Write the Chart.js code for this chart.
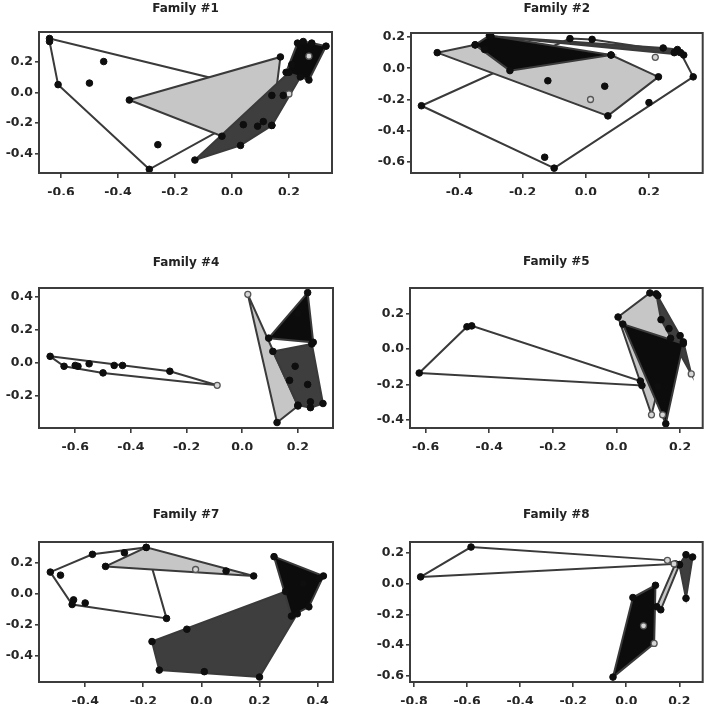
<!DOCTYPE html>
<html>
<head>
<meta charset="utf-8">
<script src="https://cdn.jsdelivr.net/npm/chart.js@4.4.0/dist/chart.umd.min.js"></script>
<style>
	html, body { margin: 0; padding: 0; background: #fff; }
	#wrap { position: relative; width: 708px; height: 707px; }
	.cell { position: absolute; }
</style>
</head>
<body>
<div id="wrap"></div>
<script>
// Point groups per family: white hull, light grey hull, dark grey hull, black hull.
// "...Open" arrays hold the hollow markers of a group (they still count for its hull).

// Family #1
const fam1White = [[-0.64, 0.35], [-0.64, 0.33], [-0.61, 0.05], [-0.45, 0.2], [-0.5, 0.06], [-0.26, -0.34], [-0.29, -0.5], [0.18, -0.02]];
const fam1Light = [[-0.36, -0.05], [0.17, 0.23], [0.14, -0.215], [-0.035, -0.285]];
const fam1Dark = [[-0.13, -0.44], [0.03, -0.345], [0.14, -0.215], [0.04, -0.21], [0.09, -0.22], [0.11, -0.19], [0.14, -0.02], [0.2, 0.13], [0.24, 0.1]];
const fam1DarkOpen = [[0.2, -0.01]];
const fam1Black = [[0.23, 0.32], [0.25, 0.33], [0.28, 0.32], [0.33, 0.3], [0.27, 0.08], [0.19, 0.13], [0.21, 0.18]];
const fam1BlackOpen = [[0.27, 0.235]];

// Family #2
const fam2White = [[-0.52, -0.24], [-0.13, -0.57], [-0.1, -0.64], [0.2, -0.22], [0.34, -0.055], [0.3, 0.1], [0.02, 0.185], [-0.05, 0.19]];
const fam2WhiteOpen = [[0.22, 0.07]];
const fam2Light = [[-0.47, 0.1], [-0.35, 0.15], [0.08, 0.085], [0.23, -0.055], [0.07, -0.305], [-0.12, -0.08], [0.06, -0.115]];
const fam2LightOpen = [[0.015, -0.2]];
const fam2Dark = [[-0.3, 0.205], [0.245, 0.13], [0.31, 0.085], [0.28, 0.1], [0.29, 0.12]];
const fam2Black = [[-0.35, 0.15], [-0.305, 0.21], [-0.24, -0.015], [0.08, 0.085], [-0.32, 0.12]];

// Family #4
const fam4White = [[-0.69, 0.04], [-0.64, -0.02], [-0.6, -0.015], [-0.59, -0.02], [-0.55, -0.005], [-0.5, -0.06], [-0.46, -0.015], [-0.43, -0.015], [-0.26, -0.05]];
const fam4WhiteOpen = [[-0.09, -0.135]];
const fam4Light = [[0.125, -0.36], [0.2, -0.26]];
const fam4LightOpen = [[0.02, 0.415]];
const fam4Dark = [[0.11, 0.07], [0.25, 0.115], [0.29, -0.245], [0.245, -0.27], [0.2, -0.255], [0.19, -0.02], [0.17, -0.105], [0.235, -0.13], [0.245, -0.235]];
const fam4Black = [[0.235, 0.425], [0.095, 0.15], [0.255, 0.125], [0.2, 0.3]];

// Family #5
const fam5White = [[-0.62, -0.135], [-0.47, 0.125], [-0.455, 0.13], [0.075, -0.18], [0.08, -0.205]];
const fam5Light = [[0.005, 0.18], [0.105, 0.315], [0.13, 0.3], [0.17, 0.06]];
const fam5LightOpen = [[0.11, -0.37]];
const fam5Dark = [[0.125, 0.31], [0.14, 0.165], [0.165, 0.115], [0.2, 0.075], [0.21, 0.04]];
const fam5DarkOpen = [[0.235, -0.14]];
const fam5Black = [[0.02, 0.14], [0.21, 0.03], [0.155, -0.42], [0.13, -0.21]];
const fam5BlackOpen = [[0.145, -0.37]];

// Family #7
const fam7White = [[-0.52, 0.14], [-0.485, 0.12], [-0.375, 0.255], [-0.265, 0.265], [-0.19, 0.3], [-0.44, -0.04], [-0.445, -0.07], [-0.4, -0.06], [-0.12, -0.16]];
const fam7Light = [[-0.33, 0.177], [-0.19, 0.3], [0.085, 0.147], [0.18, 0.115]];
const fam7LightOpen = [[-0.02, 0.157]];
const fam7Dark = [[-0.17, -0.31], [-0.05, -0.23], [-0.145, -0.495], [0.01, -0.505], [0.2, -0.54], [0.29, 0.015], [0.33, -0.13]];
const fam7Black = [[0.25, 0.24], [0.42, 0.115], [0.405, 0.1], [0.37, -0.085], [0.31, -0.145], [0.35, 0.065]];

// Family #8
const fam8White = [[-0.775, 0.045], [-0.585, 0.24]];
const fam8WhiteOpen = [[0.155, 0.153], [0.18, 0.13]];
const fam8Light = [[0.115, -0.15], [0.13, -0.17], [0.2, 0.125], [0.185, 0.13]];
const fam8Dark = [[0.2, 0.125], [0.25, 0.175], [0.225, -0.095], [0.225, 0.19]];
const fam8Black = [[-0.05, -0.61], [0.025, -0.09], [0.11, -0.01]];
const fam8BlackOpen = [[0.105, -0.39], [0.065, -0.275]];

const familyTitles = ['Family #1', 'Family #2', 'Family #4', 'Family #5', 'Family #7', 'Family #8'];
const xRanges = [[-0.677, 0.351], [-0.553, 0.37], [-0.73, 0.326], [-0.649, 0.271], [-0.559, 0.453], [-0.815, 0.288]];
const yRanges = [[-0.524, 0.392], [-0.671, 0.226], [-0.393, 0.453], [-0.444, 0.343], [-0.572, 0.335], [-0.642, 0.273]];
const xTicks = [
	[-0.6, -0.4, -0.2, 0, 0.2],
	[-0.4, -0.2, 0, 0.2],
	[-0.6, -0.4, -0.2, 0, 0.2],
	[-0.6, -0.4, -0.2, 0, 0.2],
	[-0.4, -0.2, 0, 0.2, 0.4],
	[-0.8, -0.6, -0.4, -0.2, 0, 0.2],
];
const yTicks = [
	[-0.4, -0.2, 0, 0.2],
	[-0.6, -0.4, -0.2, 0, 0.2],
	[-0.2, 0, 0.2, 0.4],
	[-0.4, -0.2, 0, 0.2],
	[-0.4, -0.2, 0, 0.2],
	[-0.6, -0.4, -0.2, 0, 0.2],
];

const familyGroups = [
	[[fam1White, []], [fam1Light, []], [fam1Dark, fam1DarkOpen], [fam1Black, fam1BlackOpen]],
	[[fam2White, fam2WhiteOpen], [fam2Light, fam2LightOpen], [fam2Dark, []], [fam2Black, []]],
	[[fam4White, fam4WhiteOpen], [fam4Light, fam4LightOpen], [fam4Dark, []], [fam4Black, []]],
	[[fam5White, []], [fam5Light, fam5LightOpen], [fam5Dark, fam5DarkOpen], [fam5Black, fam5BlackOpen]],
	[[fam7White, []], [fam7Light, fam7LightOpen], [fam7Dark, []], [fam7Black, []]],
	[[fam8White, fam8WhiteOpen], [fam8Light, []], [fam8Dark, []], [fam8Black, fam8BlackOpen]],
];

// page layout: cell = [left, top, width, height], box = [left, right, top, bottom] of the plot frame
const layoutCells = [
	{ cell: [0, 0, 354, 236], box: [39, 332, 32, 173], titleY: 8.5 },
	{ cell: [354, 0, 354, 236], box: [411, 703, 33, 173], titleY: 8.5 },
	{ cell: [0, 236, 354, 236], box: [39, 333, 288, 428], titleY: 262.5 },
	{ cell: [354, 236, 354, 236], box: [410, 704, 288, 428], titleY: 262 },
	{ cell: [0, 472, 354, 235], box: [39, 333, 542, 682], titleY: 515 },
	{ cell: [354, 472, 354, 235], box: [410, 704, 542, 682], titleY: 515 },
];

const tones = [
	{ fill: null, order: 4 },
	{ fill: '#c6c6c6', order: 3 },
	{ fill: '#3e3e3e', order: 2 },
	{ fill: '#0c0c0c', order: 1 },
];

const EDGE = '#3a3a3a';
const X_AXIS_H = 22;
const FAMILY = "'DejaVu Sans', 'Liberation Sans', sans-serif";
const tickFont = { family: FAMILY, size: 12.5, weight: 'bold' };

Chart.defaults.font.family = FAMILY;
Chart.defaults.font.weight = 'bold';
Chart.defaults.font.size = 12;
Chart.defaults.color = '#262626';

function convexHull(points) {
	const p = points.slice().sort((a, b) => a[0] - b[0] || a[1] - b[1]);
	if (p.length < 3) return p;
	const cross = (o, a, b) => (a[0] - o[0]) * (b[1] - o[1]) - (a[1] - o[1]) * (b[0] - o[0]);
	const lower = [];
	for (const q of p) {
		while (lower.length >= 2 && cross(lower[lower.length - 2], lower[lower.length - 1], q) <= 0) lower.pop();
		lower.push(q);
	}
	const upper = [];
	for (let i = p.length - 1; i >= 0; i--) {
		const q = p[i];
		while (upper.length >= 2 && cross(upper[upper.length - 2], upper[upper.length - 1], q) <= 0) upper.pop();
		upper.push(q);
	}
	upper.pop();
	lower.pop();
	return lower.concat(upper);
}

const toXY = (pts) => pts.map(([x, y]) => ({ x, y }));
const fmtTick = (v) => (Math.abs(v) < 1e-9 ? 0 : v).toFixed(1);

const framePlugin = {
	id: 'frame',
	afterDatasetsDraw(chart) {
		const { ctx, chartArea: a } = chart;
		ctx.save();
		ctx.strokeStyle = '#3c3c3c';
		ctx.lineWidth = 2;
		ctx.strokeRect(a.left, a.top, a.right - a.left, a.bottom - a.top);
		ctx.restore();
	},
};

function buildDatasets(groups) {
	const datasets = [];
	groups.forEach(([pts, open], g) => {
		const poly = convexHull(pts.concat(open));
		datasets.push({
			type: 'line',
			data: toXY(poly.concat([poly[0]])),
			borderColor: EDGE,
			borderWidth: 2,
			backgroundColor: tones[g].fill || 'rgba(0,0,0,0)',
			fill: tones[g].fill ? 'shape' : false,
			pointRadius: 0,
			tension: 0,
			order: tones[g].order,
		});
		datasets.push({
			type: 'scatter',
			data: toXY(pts),
			pointRadius: 3.3,
			backgroundColor: '#0e0e0e',
			borderColor: '#0e0e0e',
			borderWidth: 1,
			order: 0,
		});
		if (open.length) {
			datasets.push({
				type: 'scatter',
				data: toXY(open),
				pointRadius: 3,
				backgroundColor: '#d6d6d6',
				borderColor: '#555',
				borderWidth: 1.3,
				order: 0,
			});
		}
	});
	return datasets;
}

const wrap = document.getElementById('wrap');

familyTitles.forEach((title, i) => {
	const { cell, box, titleY } = layoutCells[i];
	const [cx, cy, cw, ch] = cell;
	const [bl, br, bt, bb] = box;

	const div = document.createElement('div');
	div.className = 'cell';
	div.style.left = cx + 'px';
	div.style.top = cy + 'px';
	div.style.width = cw + 'px';
	div.style.height = ch + 'px';
	const canvas = document.createElement('canvas');
	canvas.width = cw;
	canvas.height = ch;
	div.appendChild(canvas);
	wrap.appendChild(div);

	const titleTop = titleY - cy - 6;
	const titleBottom = bt - cy - titleTop - 12;

	new Chart(canvas.getContext('2d'), {
		type: 'scatter',
		data: { datasets: buildDatasets(familyGroups[i]) },
		options: {
			responsive: false,
			animation: false,
			events: [],
			layout: { padding: { left: 0, top: 0, right: cx + cw - br, bottom: cy + ch - bb - X_AXIS_H } },
			plugins: {
				legend: { display: false },
				tooltip: { enabled: false },
				title: {
					display: true,
					text: title,
					fullSize: false,
					align: 'center',
					color: '#222',
					font: { family: FAMILY, size: 12, weight: 'bold', lineHeight: 1 },
					padding: { top: titleTop, bottom: titleBottom },
				},
			},
			scales: {
				x: {
					type: 'linear',
					min: xRanges[i][0],
					max: xRanges[i][1],
					afterBuildTicks: (s) => { s.ticks = xTicks[i].map((value) => ({ value })); },
					afterFit: (s) => { s.height = X_AXIS_H; },
					ticks: { autoSkip: false, maxRotation: 0, padding: 7, callback: fmtTick, font: tickFont },
					grid: { drawOnChartArea: false, drawTicks: true, tickLength: 5, color: '#3c3c3c', lineWidth: 1.6 },
					border: { display: false },
				},
				y: {
					type: 'linear',
					min: yRanges[i][0],
					max: yRanges[i][1],
					afterBuildTicks: (s) => { s.ticks = yTicks[i].map((value) => ({ value })); },
					afterFit: (s) => { s.width = bl - cx; },
					ticks: { autoSkip: false, padding: 2, callback: fmtTick, font: tickFont },
					grid: { drawOnChartArea: false, drawTicks: true, tickLength: 4, color: '#3c3c3c', lineWidth: 1.6 },
					border: { display: false },
				},
			},
		},
		plugins: [framePlugin],
	});
});
</script>
</body>
</html>
